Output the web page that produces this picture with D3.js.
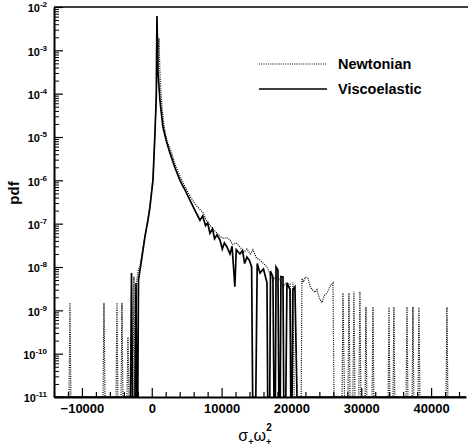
<!DOCTYPE html>
<html>
<head>
<meta charset="utf-8">
<script src="https://cdn.jsdelivr.net/npm/d3@7"></script>
<style>
  html, body { margin: 0; padding: 0; background: #fff; }
  svg { display: block; font-family: "Liberation Sans", Arial, sans-serif; }
</style>
</head>
<body>
<svg id="chart" width="468" height="446"></svg>
<script>
// x-axis ticks (sigma+ omega+^2)
const xMajor = [-10000, 0, 10000, 20000, 30000, 40000];
const yDecades = [-11, -10, -9, -8, -7, -6, -5, -4, -3, -2];

// [sigma+ omega+^2, pdf]; a pdf of 0 is drawn on the bottom axis
const newtonian = [
  [-14000, 0], [-11850, 0], [-11714, 1.5e-9], [-11580, 0],
  [-6980, 0], [-6845, 1.5e-9], [-6700, 0],
  [-5120, 0], [-4983, 1.5e-9], [-4850, 0],
  [-4400, 0], [-4267, 1.5e-9], [-4130, 0],
  [-3550, 0], [-3408, 2.4e-10], [-3270, 0],
  [-2700, 0], [-2550, 6e-9], [-2420, 0],
  [-2300, 0], [-2150, 5e-9], [-1900, 9e-9], [-1690, 1.0e-8], [-1400, 2.0e-8],
  [-970, 5.5e-8], [-540, 1.3e-7], [-260, 2.6e-7], [170, 1.1e-6], [460, 1.3e-5],
  [750, 2.5e-4], [1030, 1.9e-3], [1200, 2.2e-4], [1460, 5.0e-5], [1750, 1.8e-5],
  [2200, 8e-6], [2800, 4.5e-6], [3500, 2.0e-6], [4200, 1.1e-6], [4900, 6.5e-7],
  [5600, 4.0e-7], [6400, 2.6e-7], [7330, 1.8e-7], [7800, 1.2e-7], [8300, 9.5e-8],
  [8800, 7.5e-8], [9340, 6.0e-8], [9800, 5.0e-8], [10300, 4.6e-8], [10700, 4.8e-8],
  [11200, 4.2e-8], [11600, 3.3e-8], [12100, 3.6e-8], [12630, 2.9e-8], [13200, 2.2e-8],
  [13630, 2.6e-8], [14100, 2.0e-8], [14490, 2.5e-8], [15000, 1.6e-8], [15490, 1.45e-8],
  [16000, 1.2e-8], [16500, 1.0e-8], [16900, 7e-9], [17350, 5e-9], [17800, 6e-9],
  [18360, 5e-9], [18800, 3.5e-9], [19300, 4.3e-9], [19800, 4.0e-9], [19950, 0],
  [20100, 0], [20220, 4.5e-9], [20400, 0],
  [21400, 0], [21510, 5.5e-9], [21700, 4.5e-9], [22000, 5.9e-9], [22370, 5.5e-9],
  [22700, 3.5e-9], [23000, 3.0e-9], [23350, 2.6e-9], [23656, 3.0e-9], [24000, 1.9e-9],
  [24372, 1.5e-9], [24700, 2.2e-9], [25088, 2.5e-9], [25500, 3.5e-9], [25950, 4.3e-9],
  [26100, 0],
  [27250, 0], [27380, 2.5e-9], [27600, 0],
  [28100, 0], [28240, 2.5e-9], [28400, 0],
  [28800, 0], [28950, 2.7e-9], [29100, 0],
  [29650, 0], [29810, 2.7e-9], [29950, 0],
  [30550, 0], [30670, 1.2e-9], [30800, 0],
  [31550, 0], [31680, 1.2e-9], [31800, 0],
  [33850, 0], [33970, 1.2e-9], [34100, 0],
  [34550, 0], [34680, 1.2e-9], [34800, 0],
  [36420, 0], [36550, 1.2e-9], [36680, 0],
  [37280, 0], [37400, 1.2e-9], [37530, 0],
  [38130, 0], [38260, 1.2e-9], [38400, 0],
  [42150, 0], [42270, 1.2e-9], [42400, 0], [45000, 0]
];

const viscoelastic = [
  [-14000, 0], [-3050, 0], [-2900, 7.3e-9], [-2760, 0],
  [-2400, 0], [-2260, 4.3e-9], [-2150, 0], [-2000, 0],
  [-1900, 5e-9], [-1690, 8.5e-9], [-1400, 1.7e-8], [-970, 5e-8], [-540, 1.2e-7],
  [-260, 2.4e-7], [170, 1.0e-6], [460, 1.2e-5], [640, 8e-5], [745, 6.2e-3],
  [900, 3.0e-4], [1170, 7.1e-5], [1600, 1.7e-5], [2100, 8e-6], [2600, 4.3e-6],
  [3300, 2.0e-6], [4040, 1.0e-6], [4750, 6e-7], [5470, 3.5e-7], [6200, 2.0e-7],
  [6900, 1.2e-7], [7300, 1.5e-7], [7700, 9e-8], [8000, 1.05e-7], [8330, 6e-8],
  [8700, 7.5e-8], [9000, 4.5e-8], [9340, 5.5e-8], [9770, 4.2e-8], [10100, 2.6e-8],
  [10400, 3.6e-8], [10770, 2.9e-8], [11200, 2.0e-8], [11500, 3.0e-8], [11900, 3.5e-9],
  [12100, 2.5e-8], [12630, 2.0e-8], [13000, 2.4e-8], [13300, 1.2e-8], [13630, 1.7e-8],
  [14000, 1.4e-8], [14300, 1.0e-8], [14450, 0],
  [14900, 0], [15100, 1.2e-8], [15500, 7.3e-9], [16000, 9e-9], [16500, 4.3e-9], [16600, 0],
  [16900, 0], [17000, 8e-9], [17350, 5.9e-9], [17500, 0],
  [17700, 0], [17800, 1.0e-8], [18070, 8.5e-9], [18200, 0],
  [18400, 0], [18500, 6e-9], [18790, 5.9e-9], [18900, 0],
  [19200, 0], [19360, 4.3e-9], [19800, 3e-9], [19900, 0],
  [20100, 0], [20200, 3e-9], [20500, 3.5e-9], [20800, 0], [45000, 0]
];

const W = 468, H = 446;
const m = { top: 7, right: 2, bottom: 49, left: 54 };
const iW = W - m.left - m.right;
const iH = H - m.top - m.bottom;

const svg = d3.select("#chart");
const g = svg.append("g").attr("transform", `translate(${m.left},${m.top})`);

const x = d3.scaleLinear().domain([-14000, 45000]).range([0, iW]);
const y = d3.scaleLog().domain([1e-11, 1e-2]).range([iH, 0]);
const floor = 1e-11;

// minor ticks
const xMinor = d3.range(-14000, 45001, 2000).filter(v => v % 10000 !== 0);
const yMinor = [];
yDecades.slice(0, -1).forEach(k => { for (let i = 2; i <= 9; i++) yMinor.push(i * Math.pow(10, k)); });

g.append("g").attr("transform", `translate(0,${iH})`)
  .call(d3.axisBottom(x).tickValues(xMinor).tickSize(-5).tickFormat(""))
  .call(ax => { ax.select(".domain").remove(); ax.selectAll(".tick line").attr("stroke", "#000").attr("stroke-width", 1.2); });

g.append("g")
  .call(d3.axisLeft(y).tickValues(yMinor).tickSize(-5).tickFormat(""))
  .call(ax => { ax.select(".domain").remove(); ax.selectAll(".tick line").attr("stroke", "#000").attr("stroke-width", 1); });

// X-Axis
g.append("g").attr("transform", `translate(0,${iH})`)
  .call(d3.axisBottom(x).tickValues(xMajor).tickSize(-9).tickPadding(7).tickSizeOuter(0).tickFormat(d3.format("d")))
  .call(ax => {
    ax.select(".domain").attr("stroke", "#000").attr("stroke-width", 2);
    ax.selectAll(".tick line").attr("stroke", "#000").attr("stroke-width", 1.2);
    ax.selectAll(".tick text").style("fill", "#000").style("font-size", "13px").style("font-weight", "bold");
  });

// Y-Axis (10^n labels)
g.append("g")
  .call(d3.axisLeft(y).tickValues(yDecades.map(k => Math.pow(10, k))).tickSize(-9).tickPadding(7).tickSizeOuter(0))
  .call(ax => {
    ax.select(".domain").attr("stroke", "#000").attr("stroke-width", 2);
    ax.selectAll(".tick line").attr("stroke", "#000").attr("stroke-width", 1.2);
    ax.selectAll(".tick text").text(null)
      .style("fill", "#000").style("font-size", "11px").style("font-weight", "bold").attr("dy", "0.45em")
      .each(function (d) {
        const t = d3.select(this);
        t.append("tspan").text("10");
        t.append("tspan").attr("dy", "-5").style("font-size", "8px").text(Math.round(Math.log10(d)));
      });
  });

// top border
g.append("line").attr("x1", 0).attr("x2", W - m.left).attr("y1", 0).attr("y2", 0)
  .attr("stroke", "#000").attr("stroke-width", 1.5);

// Curves
const line = d3.line().x(d => x(d[0])).y(d => y(Math.max(d[1], floor)));

g.append("path").datum(newtonian).attr("fill", "none")
  .attr("stroke", "#000").attr("stroke-width", 1.2).attr("stroke-dasharray", "1,1.2").attr("d", line);
g.append("path").datum(viscoelastic).attr("fill", "none")
  .attr("stroke", "#000").attr("stroke-width", 1.7).attr("d", line);

// Axis titles
svg.append("text")
  .attr("transform", "rotate(-90)").attr("x", -193).attr("y", 19)
  .attr("text-anchor", "middle").style("font-size", "15px").style("font-weight", "bold")
  .text("pdf");

const xt = svg.append("text").attr("x", 255).attr("y", 441).attr("text-anchor", "middle")
  .style("font-size", "16px");
xt.append("tspan").text("σ");
xt.append("tspan").attr("dy", 4).style("font-size", "9px").style("font-weight", "bold").text("+");
xt.append("tspan").attr("dy", -4).text("ω");
xt.append("tspan").attr("dy", 4).style("font-size", "9px").style("font-weight", "bold").text("+");
xt.append("tspan").attr("dy", -14).attr("dx", -5).style("font-size", "10px").style("font-weight", "bold").text("2");

// Legend
const legend = svg.append("g");
const items = [["Newtonian", "1,1.2", 1.2], ["Viscoelastic", null, 1.7]];
items.forEach((it, i) => {
  const yy = 64 + i * 25;
  legend.append("line").attr("x1", 259).attr("x2", 327).attr("y1", yy).attr("y2", yy)
    .attr("stroke", "#000").attr("stroke-width", it[2]).attr("stroke-dasharray", it[1]);
  legend.append("text").attr("x", 338).attr("y", yy + 5)
    .style("font-size", "14.5px").style("font-weight", "bold").text(it[0]);
});
</script>
</body>
</html>
